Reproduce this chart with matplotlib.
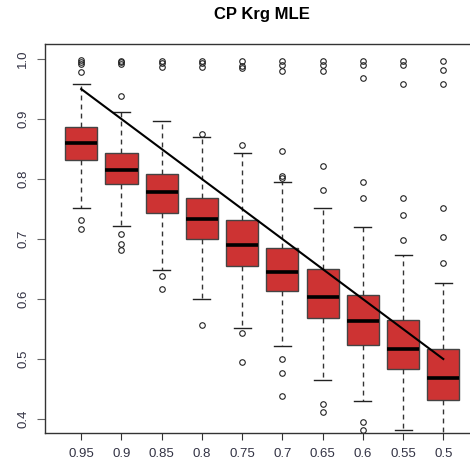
import matplotlib
matplotlib.use("Agg")
import matplotlib.pyplot as plt

# nominal coverage levels (x categories)
levels = ["0.95", "0.9", "0.85", "0.8", "0.75", "0.7", "0.65", "0.6", "0.55", "0.5"]

# box statistics
whislo = [0.751, 0.721, 0.648, 0.5995, 0.552, 0.521, 0.4655, 0.430, 0.3817, 0.360]
q1 = [0.831, 0.791, 0.744, 0.6995, 0.6555, 0.6128, 0.568, 0.523, 0.483, 0.4317]
med = [0.8605, 0.815, 0.778, 0.734, 0.690, 0.645, 0.604, 0.564, 0.517, 0.468]
q3 = [0.886, 0.843, 0.808, 0.768, 0.731, 0.6855, 0.650, 0.606, 0.565, 0.517]
whishi = [0.958, 0.911, 0.897, 0.870, 0.843, 0.7955, 0.7517, 0.7195, 0.673, 0.6267]
fliers = [
    [0.731, 0.717, 0.979, 0.992, 0.995, 0.998],
    [0.709, 0.692, 0.682, 0.939, 0.992, 0.995, 0.997],
    [0.639, 0.617, 0.987, 0.993, 0.997],
    [0.556, 0.875, 0.987, 0.993, 0.997],
    [0.543, 0.495, 0.857, 0.985, 0.988, 0.997],
    [0.500, 0.477, 0.438, 0.801, 0.805, 0.847, 0.980, 0.990, 0.997],
    [0.4255, 0.412, 0.782, 0.822, 0.980, 0.990, 0.997],
    [0.395, 0.382, 0.769, 0.795, 0.969, 0.990, 0.997],
    [0.698, 0.7395, 0.769, 0.959, 0.990, 0.997],
    [0.660, 0.704, 0.7517, 0.959, 0.982, 0.997],
]

plt.rcParams['font.family'] = ['Liberation Sans', 'DejaVu Sans']

fig = plt.figure(figsize=(4.7, 4.66), dpi=100)
ax = fig.add_axes([45 / 470, 33 / 466, 434.5 / 470, 389 / 466])

stats = []
for i in range(len(levels)):
    stats.append(dict(whislo=whislo[i], q1=q1[i], med=med[i], q3=q3[i],
                      whishi=whishi[i], fliers=fliers[i]))

pos = list(range(1, len(levels) + 1))
ax.bxp(stats, positions=pos, widths=0.8, capwidths=0.42, patch_artist=True,
       boxprops=dict(facecolor="#CD3333", edgecolor="#444444", linewidth=1),
       medianprops=dict(color="black", linewidth=2.6, solid_capstyle="butt"),
       whiskerprops=dict(color="#333333", linewidth=1, linestyle=(0, (3.5, 3))),
       capprops=dict(color="#222222", linewidth=1),
       flierprops=dict(marker="o", markerfacecolor="none", markeredgecolor="#222222",
                       markersize=4, markeredgewidth=0.8))

# nominal coverage line
ax.plot([pos[0], pos[-1]], [float(levels[0]), float(levels[-1])], color="black", lw=1.5)

ax.set_xlim(0.1, 10.9)
ax.set_ylim(0.3767, 1.025)
ax.set_xticks(pos)
ax.set_xticklabels(levels)
ax.set_yticks([0.4, 0.5, 0.6, 0.7, 0.8, 0.9, 1.0])
ax.set_yticklabels(["0.4", "0.5", "0.6", "0.7", "0.8", "0.9", "1.0"], rotation=90, va="center")
ax.tick_params(axis="x", length=5, pad=6, color="#333333", labelcolor="#333344", labelsize=9.5)
ax.tick_params(axis="y", length=5.5, pad=6, color="#666666", labelcolor="#333344", labelsize=9.5)
for sp in ax.spines.values():
    sp.set_color("#333333")
    sp.set_linewidth(1)

fig.text(262 / 470, 1 - 15 / 466, "CP Krg MLE", ha="center", va="center",
         fontsize=12, fontweight="bold")

fig.savefig("out.png", dpi=100)
